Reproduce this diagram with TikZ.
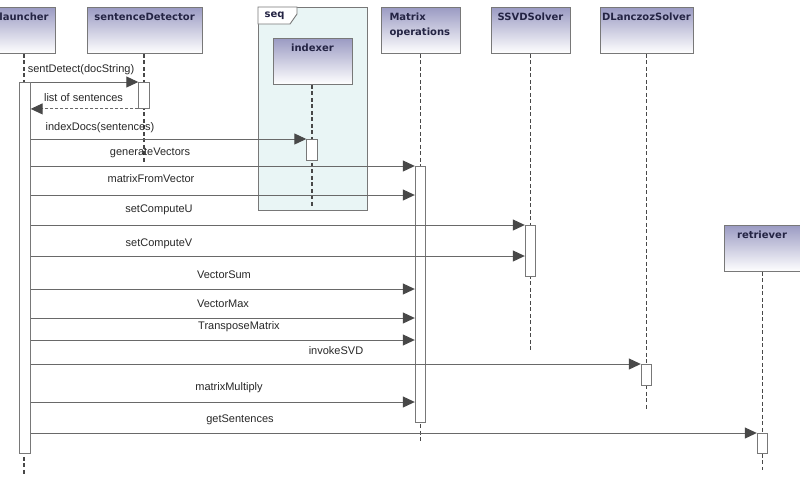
\documentclass[tikz,border=0pt]{standalone}
\usepackage{fontspec}
\setmainfont{Liberation Sans}
\newfontfamily\headfont{DejaVu Sans}
\usetikzlibrary{arrows.meta}

\definecolor{headtop}{RGB}{155,155,195}
\definecolor{headtxt}{RGB}{36,36,68}
\definecolor{framefill}{RGB}{233,245,245}
\definecolor{linegray}{RGB}{105,105,105}
\definecolor{tipgray}{RGB}{72,72,72}
\definecolor{boxedge}{RGB}{120,120,120}
\definecolor{msgtxt}{RGB}{40,40,40}

\tikzset{
  head/.style={draw=boxedge, line width=0.9pt, top color=headtop, bottom color=white,
    anchor=north, minimum height=42pt, inner xsep=0pt, inner ysep=4pt,
    text height=9pt, text depth=29pt, text=headtxt,
    font=\headfont\bfseries\fontsize{10}{15}\selectfont},
  lifeline/.style={draw=tipgray, line width=1.9pt, dash pattern=on 4pt off 2.5pt},
  act/.style={draw=boxedge, line width=0.9pt, fill=white, minimum width=10.5pt,
    inner sep=0pt, anchor=north},
  msg/.style={draw=linegray, line width=1pt,
    -{Triangle[length=12pt,width=11pt,color=tipgray]}},
  reply/.style={msg, dash pattern=on 3pt off 2pt},
  lbl/.style={font=\fontsize{11}{13}\selectfont, text=msgtxt, inner sep=0pt},
}

\begin{document}
\begin{tikzpicture}[x=1pt,y=1pt]
  \useasboundingbox[fill=white] (0,0) rectangle (800,-488);

  % combined fragment around the indexer
  \node[draw=boxedge, line width=0.9pt, fill=framefill, minimum width=109pt,
        minimum height=203pt, anchor=north west, inner sep=0pt] (seqF) at (258,-7) {};
  \draw[draw=boxedge, line width=0.9pt, fill=white]
    (seqF.north west) -- ++(39,0) -- ++(0,-7) -- ++(-7,-10)
    -- (seqF.north west |- 0,-24) -- cycle;
  \node[font=\headfont\bfseries\fontsize{10}{12}\selectfont, text=headtxt] (seqT) at (274.5,-16) {seq};

  % participants
  \node[head, minimum width=62pt] (la) at (24,-7) {launcher};
  \node[head, minimum width=115pt] (sd) at (144.5,-7) {sentenceDetector};
  \node[head, minimum width=79pt] (ix) at (312.5,-38) {indexer};
  \node[head, minimum width=79pt] (mo) at (421,-7)
    {\parbox[t]{63pt}{\raggedright Matrix\\operations}};
  \node[head, minimum width=79pt] (ss) at (530.5,-7) {SSVDSolver};
  \node[head, minimum width=93pt] (dl) at (646.5,-7) {DLanczozSolver};
  \node[head, minimum width=76pt] (re) at (762,-225) {retriever};

  % lifeline ends
  \coordinate (laEnd) at (24,-475);
  \coordinate (sdEnd) at (144,-163);
  \coordinate (ixEnd) at (312,-208);
  \coordinate (moEnd) at (420.5,-443);
  \coordinate (ssEnd) at (530.5,-350);
  \coordinate (dlEnd) at (646.5,-410);
  \coordinate (reEnd) at (762.5,-470);

  \draw[lifeline] (la.south -| laEnd) -- (laEnd);
  \draw[lifeline] (sd.south -| sdEnd) -- (sdEnd);
  \draw[lifeline] (ix.south -| ixEnd) -- (ixEnd);
  \draw[lifeline] (mo.south -| moEnd) -- (moEnd);
  \draw[lifeline] (ss.south -| ssEnd) -- (ssEnd);
  \draw[lifeline] (dl.south -| dlEnd) -- (dlEnd);
  \draw[lifeline] (re.south -| reEnd) -- (reEnd);

  % activation bars
  \node[act, minimum height=371pt] (laA) at (25,-82) {};
  \node[act, minimum height=26pt]  (sdA) at (144,-82) {};
  \node[act, minimum height=21pt]  (ixA) at (312,-139) {};
  \node[act, minimum height=256pt] (moA) at (420.5,-166) {};
  \node[act, minimum height=51pt]  (ssA) at (530.5,-225) {};
  \node[act, minimum height=21pt]  (dlA) at (646.5,-364) {};
  \node[act, minimum height=20pt]  (reA) at (762.5,-433) {};

  % messages
  \draw[msg] (laA.east |- sdA.north) -- (sdA.north west)
    node[lbl] (m1) at (81,-70) {sentDetect(docString)};
  \draw[reply] (sdA.south west) -- (laA.east |- sdA.south)
    node[lbl] (m2) at (83.5,-98) {list of sentences};
  \draw[msg] (laA.east |- ixA.north) -- (ixA.north west)
    node[lbl] (m3) at (100,-128) {indexDocs(sentences)};
  \draw[msg] (laA.east |- moA.north) -- (moA.north west)
    node[lbl] (m4) at (150,-153) {generateVectors};
  \draw[msg] (laA.east |- 0,-195) -- (moA.west |- 0,-195)
    node[lbl] (m5) at (151,-179) {matrixFromVector};
  \draw[msg] (laA.east |- ssA.north) -- (ssA.north west)
    node[lbl] (m6) at (159,-210) {setComputeU};
  \draw[msg] (laA.east |- 0,-256) -- (ssA.west |- 0,-256)
    node[lbl] (m7) at (159,-244) {setComputeV};
  \draw[msg] (laA.east |- 0,-289) -- (moA.west |- 0,-289)
    node[lbl] (m8) at (224,-275) {VectorSum};
  \draw[msg] (laA.east |- 0,-318) -- (moA.west |- 0,-318)
    node[lbl] (m9) at (223,-304) {VectorMax};
  \draw[msg] (laA.east |- 0,-340) -- (moA.west |- 0,-340)
    node[lbl] (m10) at (239,-327) {TransposeMatrix};
  \draw[msg] (laA.east |- dlA.north) -- (dlA.north west)
    node[lbl] (m11) at (336,-351) {invokeSVD};
  \draw[msg] (laA.east |- 0,-402) -- (moA.west |- 0,-402)
    node[lbl] (m12) at (229,-388) {matrixMultiply};
  \draw[msg] (laA.east |- reA.north) -- (reA.north west)
    node[lbl] (m13) at (240,-420) {getSentences};
\end{tikzpicture}
\end{document}
